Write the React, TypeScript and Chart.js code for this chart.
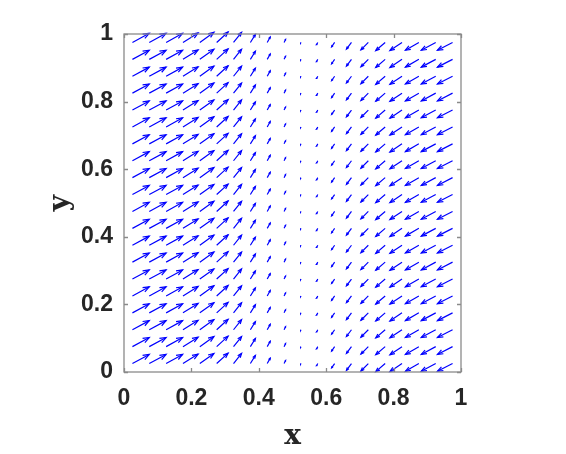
import React, { useEffect, useRef } from 'react';
import { Chart, registerables } from 'chart.js';

Chart.register(...registerables);

// Grid positions of the arrows (data units)
const xGrid = [0.025, 0.075, 0.125, 0.175, 0.225, 0.275, 0.325, 0.375, 0.425, 0.475, 0.525, 0.575, 0.625, 0.675, 0.725, 0.775, 0.825, 0.875, 0.925, 0.975];
const yGrid = [0.025, 0.075, 0.125, 0.175, 0.225, 0.275, 0.325, 0.375, 0.425, 0.475, 0.525, 0.575, 0.625, 0.675, 0.725, 0.775, 0.825, 0.875, 0.925, 0.975];

// Arrow components per column (identical for every row), data units
const uByColumn = [0.050, 0.050, 0.049, 0.045, 0.042, 0.034, 0.024, 0.015, 0.009, 0.0045, -0.0008, -0.0035, -0.009, -0.015, -0.022, -0.028, -0.036, -0.040, -0.043, -0.045];
const vByColumn = [0.027, 0.027, 0.027, 0.028, 0.030, 0.031, 0.030, 0.024, 0.016, 0.009, -0.0015, -0.0065, -0.013, -0.020, -0.022, -0.024, -0.024, -0.023, -0.023, -0.023];

const xTickValues = [0, 0.2, 0.4, 0.6, 0.8, 1];
const xTickLabels = ['0', '0.2', '0.4', '0.6', '0.8', '1'];
const yTickValues = [0, 0.2, 0.4, 0.6, 0.8, 1];
const yTickLabels = ['0', '0.2', '0.4', '0.6', '0.8', '1'];

const xTitle = 'x';
const yTitle = 'y';

const HEAD_ALPHA = 0.33;
const HEAD_BETA = 0.38;

function buildShafts() {
  const pts: any[] = [];
  xGrid.forEach((x, i) => {
    const u = uByColumn[i];
    const v = vByColumn[i];
    yGrid.forEach((y) => {
      pts.push({ x, y });
      pts.push({ x: x + u, y: y + v });
      pts.push({ x: x + u, y: null });
    });
  });
  return pts;
}

function buildHeads() {
  const pts: any[] = [];
  xGrid.forEach((x, i) => {
    const u = uByColumn[i];
    const v = vByColumn[i];
    yGrid.forEach((y) => {
      const tx = x + u;
      const ty = y + v;
      pts.push({ x: tx - HEAD_ALPHA * (u + HEAD_BETA * v), y: ty - HEAD_ALPHA * (v - HEAD_BETA * u) });
      pts.push({ x: tx, y: ty });
      pts.push({ x: tx - HEAD_ALPHA * (u - HEAD_BETA * v), y: ty - HEAD_ALPHA * (v + HEAD_BETA * u) });
      pts.push({ x: tx, y: null });
    });
  });
  return pts;
}

export default function App() {
  const ref = useRef<HTMLCanvasElement>(null);

  useEffect(() => {
    document.body.style.margin = '0';
    const canvas = ref.current;
    if (!canvas) return;

    const framePlugin = {
      id: 'matlabFrame',
      afterDraw(chart: any) {
        const { ctx, chartArea: a, scales } = chart;
        ctx.save();
        ctx.strokeStyle = '#8a8a8a';
        ctx.lineWidth = 1.3;
        const tl = 4;
        ctx.beginPath();
        xTickValues.forEach((t) => {
          const px = Math.round(scales.x.getPixelForValue(t)) + 0.5;
          ctx.moveTo(px, a.bottom);
          ctx.lineTo(px, a.bottom - tl);
          ctx.moveTo(px, a.top);
          ctx.lineTo(px, a.top + tl);
        });
        yTickValues.forEach((t) => {
          const py = Math.round(scales.y.getPixelForValue(t)) + 0.5;
          ctx.moveTo(a.left, py);
          ctx.lineTo(a.left + tl, py);
          ctx.moveTo(a.right, py);
          ctx.lineTo(a.right - tl, py);
        });
        ctx.stroke();
        ctx.strokeRect(a.left, a.top, a.right - a.left, a.bottom - a.top);
        ctx.restore();
      },
    };

    const tickFont = { family: '"Liberation Sans", Arial, Helvetica, sans-serif', weight: 'bold' as const, size: 23 };
    const titleFont = { family: '"DejaVu Serif", "Liberation Serif", serif', weight: 'bold' as const, size: 28 };

    const arrowStyle = {
      showLine: true,
      borderColor: '#0000ff',
      borderWidth: 1.2,
      pointRadius: 0,
      pointHoverRadius: 0,
      spanGaps: false,
      clip: false as any,
    };

    const chart = new Chart(canvas, {
      type: 'scatter',
      data: {
        datasets: [
          { data: buildShafts(), ...arrowStyle },
          { data: buildHeads(), ...arrowStyle },
        ],
      },
      plugins: [framePlugin],
      options: {
        animation: false,
        responsive: false,
        devicePixelRatio: 1,
        events: [],
        layout: { padding: { left: 0, top: 34, right: 105, bottom: 0 } },
        plugins: {
          legend: { display: false },
          tooltip: { enabled: false },
        },
        scales: {
          x: {
            type: 'linear',
            min: 0,
            max: 1,
            afterFit: (s: any) => { s.height = 82; },
            afterBuildTicks: (s: any) => { s.ticks = xTickValues.map((v) => ({ value: v })); },
            grid: { display: false, drawTicks: false },
            border: { display: false },
            ticks: {
              padding: 13,
              color: '#262626',
              font: tickFont,
              maxRotation: 0,
              callback: (_v: any, i: number) => xTickLabels[i],
            },
            title: {
              display: true,
              text: xTitle,
              color: '#262626',
              font: titleFont,
              padding: { top: 0, bottom: 0 },
            },
          },
          y: {
            type: 'linear',
            min: 0,
            max: 1,
            afterFit: (s: any) => { s.width = 124; },
            afterBuildTicks: (s: any) => { s.ticks = yTickValues.map((v) => ({ value: v })); },
            grid: { display: false, drawTicks: false },
            border: { display: false },
            ticks: {
              padding: 11,
              color: '#262626',
              font: tickFont,
              callback: (_v: any, i: number) => yTickLabels[i],
            },
            title: {
              display: true,
              text: yTitle,
              color: '#262626',
              font: titleFont,
              padding: { top: 44, bottom: 0 },
            },
          },
        },
      },
    });

    return () => chart.destroy();
  }, []);

  return (
    <div style={{ position: 'relative', width: 566, height: 454 }}>
      <canvas ref={ref} width={566} height={454} style={{ display: 'block' }} />
    </div>
  );
}
